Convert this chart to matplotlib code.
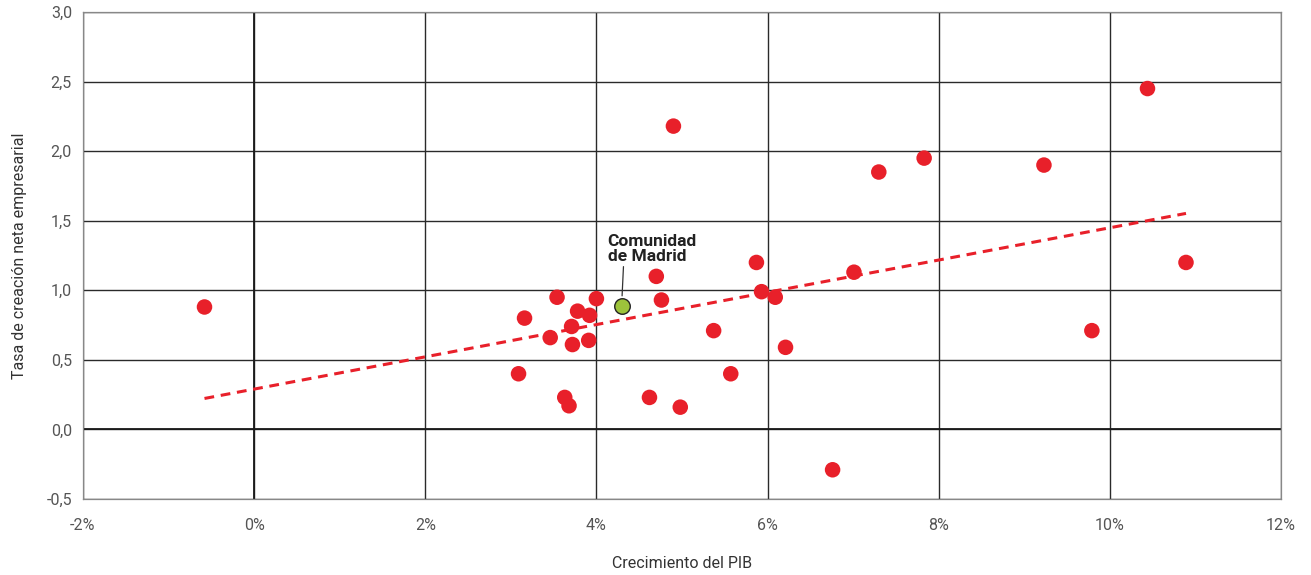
import numpy as np
import matplotlib
matplotlib.use("Agg")
import matplotlib.pyplot as plt
from matplotlib.ticker import FuncFormatter

plt.rcParams['font.family'] = ['Roboto', 'DejaVu Sans']

# GDP growth (%) and net business creation rate
pib = [-0.58, 3.09, 3.16, 3.46, 3.54, 3.63, 3.68, 3.71, 3.72, 3.78, 3.91, 3.92,
       4.00, 4.62, 4.70, 4.76, 4.90, 4.98, 5.37, 5.57, 5.87, 5.93, 6.09, 6.21,
       6.76, 7.01, 7.30, 7.83, 9.23, 9.79, 10.44, 10.89]
tasa = [0.88, 0.40, 0.80, 0.66, 0.95, 0.23, 0.17, 0.74, 0.61, 0.85, 0.64, 0.82,
        0.94, 0.23, 1.10, 0.93, 2.18, 0.16, 0.71, 0.40, 1.20, 0.99, 0.95, 0.59,
        -0.29, 1.13, 1.85, 1.95, 1.90, 0.71, 2.45, 1.20]

madrid_pib = 4.30
madrid_tasa = 0.89
madrid_label = "Comunidad\nde Madrid"

xticks = [-2, 0, 2, 4, 6, 8, 10, 12]
yticks = [-0.5, 0.0, 0.5, 1.0, 1.5, 2.0, 2.5, 3.0]

fig = plt.figure(figsize=(13.11, 5.75), dpi=100)
ax = fig.add_axes([0.0633, 0.1322, 0.9138, 0.8469])

# grid
for xv in xticks:
    ax.axvline(xv, color='#2a2a2a', lw=1.0, zorder=1)
for yv in yticks:
    ax.axhline(yv, color='#2a2a2a', lw=1.0, zorder=1)
ax.axhline(0, color='#1a1a1a', lw=1.3, zorder=1)
ax.axvline(0, color='#1a1a1a', lw=1.3, zorder=1)

# trend line fitted over all regions (Madrid included)
all_x = np.array(pib + [madrid_pib])
all_y = np.array(tasa + [madrid_tasa])
slope, intercept = np.polyfit(all_x, all_y, 1)
x_line = np.array([min(all_x), max(all_x)])
ax.plot(x_line, intercept + slope * x_line, color='#E8202A', lw=2.2,
        ls=(0, (3.2, 2.2)), zorder=2)

ax.scatter(pib, tasa, s=125, color='#E8202A', edgecolors='none', zorder=3)
ax.scatter([madrid_pib], [madrid_tasa], s=125, color='#9DC33B',
           edgecolors='#222222', linewidths=1.0, zorder=4)

ax.annotate(madrid_label, xy=(madrid_pib, madrid_tasa + 0.07),
            xytext=(madrid_pib - 0.17, 1.19), textcoords='data',
            fontsize=12.5, fontweight='bold', color='#222222',
            ha='left', va='bottom', linespacing=1.0,
            arrowprops=dict(arrowstyle='-', color='#333333', lw=0.9,
                            shrinkA=0, shrinkB=0,
                            relpos=(0.18, 0)))

ax.set_xlim(-2, 12)
ax.set_ylim(-0.5, 3.0)
ax.set_xticks(xticks)
ax.set_yticks(yticks)
ax.xaxis.set_major_formatter(FuncFormatter(lambda v, p: f"{v:.0f}%"))
ax.yaxis.set_major_formatter(FuncFormatter(lambda v, p: f"{v:.1f}".replace('.', ',')))
ax.tick_params(length=0, labelsize=11.5, colors='#555555', pad=8)
ax.tick_params(axis='x', pad=14)
for s in ax.spines.values():
    s.set_color('#888888')
    s.set_linewidth(0.9)

ax.set_xlabel("Crecimiento del PIB", fontsize=11.5, color='#333333', labelpad=16)
ax.set_ylabel("Tasa de creación neta empresarial", fontsize=11.5, color='#333333', labelpad=14)

fig.savefig("out.png", dpi=100)
